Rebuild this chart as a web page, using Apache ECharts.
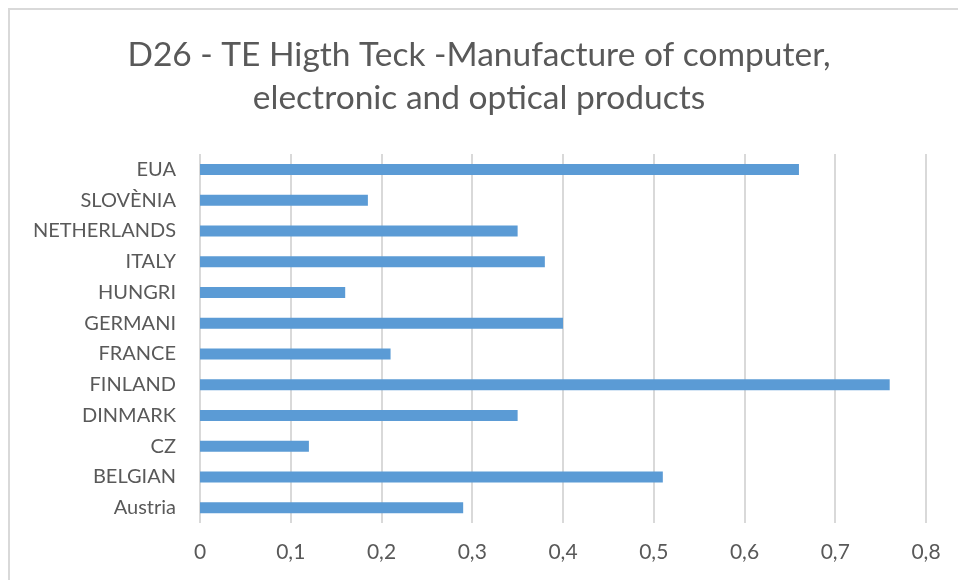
<!DOCTYPE html>
<html>
<head>
<meta charset="utf-8">
<script src="https://cdn.jsdelivr.net/npm/echarts@6/dist/echarts.min.js"></script>
<style>
html,body{margin:0;padding:0;background:#fff;}
#chart{width:958px;height:580px;}
</style>
</head>
<body>
<div id="chart"></div>
<script>
const titleText = "D26 - TE Higth Teck -Manufacture of computer,\nelectronic and optical products";
const categories = ["Austria","BELGIAN","CZ","DINMARK","FINLAND","FRANCE","GERMANI","HUNGRI","ITALY","NETHERLANDS","SLOVÈNIA","EUA"];
const values = [0.29,0.51,0.12,0.35,0.76,0.21,0.40,0.16,0.38,0.35,0.185,0.66];
const xMin = 0, xMax = 0.8, xStep = 0.1;

const chart = echarts.init(document.getElementById('chart'), null, {renderer:'canvas'});
chart.setOption({
  animation:false,
  backgroundColor:'#ffffff',
  graphic:[{
    type:'rect', silent:true, z:-10,
    shape:{x:9, y:9, width:1200, height:1200},
    style:{fill:'#ffffff', stroke:'#d9d9d9', lineWidth:2}
  }],
  title:{
    text:titleText,
    left:'center', top:29,
    textStyle:{fontFamily:'Lato', fontSize:33.5, fontWeight:'normal', color:'#595959', lineHeight:43}
  },
  grid:{left:200, right:32, top:154, bottom:57, containLabel:false},
  xAxis:{
    type:'value', min:xMin, max:xMax, interval:xStep,
    axisLine:{show:false}, axisTick:{show:false},
    splitLine:{show:true, lineStyle:{color:'#d9d9d9', width:2}},
    axisLabel:{
      color:'#595959', fontFamily:'Lato', fontSize:21, margin:19,
      formatter:function(v){ return (Math.round(v*10)/10).toString().replace('.', ','); }
    }
  },
  yAxis:{
    type:'category', data:categories,
    axisLine:{show:false}, axisTick:{show:false},
    axisLabel:{color:'#595959', fontFamily:'Lato', fontSize:20, margin:24}
  },
  series:[{
    type:'bar', data:values, barWidth:11,
    itemStyle:{color:'#5b9bd5'}
  }]
});
</script>
</body>
</html>
